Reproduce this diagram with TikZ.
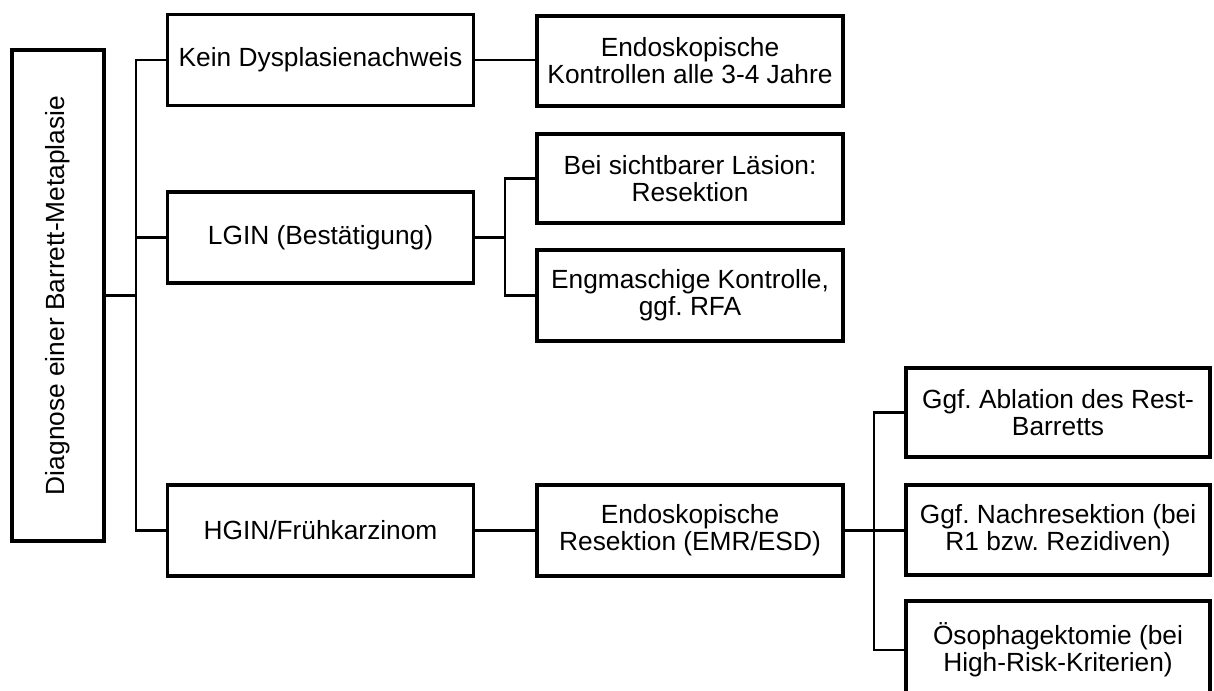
\documentclass[tikz,border=0pt]{standalone}
\usepackage{fontspec}
\setmainfont{Liberation Sans}
\begin{document}
\frenchspacing
\begin{tikzpicture}[x=1pt,y=-1pt,
  box/.style={draw, line width=3.5pt, minimum width=306pt, minimum height=91pt,
    inner sep=0pt, align=center, font=\fontsize{26.3}{27}\selectfont},
  link/.style={line width=2.5pt},
  fine/.style={line width=2.2pt},
  heavy/.style={line width=3.5pt}]
\useasboundingbox (0,0) rectangle (1214,690);
\clip (0,0) rectangle (1214,690);

% root box with rotated title
\node[box, minimum width=491pt, minimum height=92pt, rotate=90] (root) at (58,295.5)
  {Diagnose einer Barrett-Metaplasie};

% first level
\node[box] (kein) at (320.5,60) {Kein Dysplasienachweis};
\node[box] (lgin) at (320.5,237.5) {LGIN (Bestätigung)};
\node[box] (hgin) at (320.5,530.5) {HGIN/Frühkarzinom};

% second level
\node[box, minimum height=90pt] (endok) at (690,61) {Endoskopische\\Kontrollen alle 3-4 Jahre};
\node[box, minimum height=89pt] (bei) at (690,178.5) {Bei sichtbarer Läsion:\\Resektion};
\node[box] (eng) at (690,295.5) {Engmaschige Kontrolle,\\ggf. RFA};
\node[box] (endor) at (690,530.5) {Endoskopische\\Resektion (EMR/ESD)};

% third level
\node[box, minimum width=304pt, minimum height=89pt] (abl) at (1058,412.5) {Ggf. Ablation des Rest-\\Barretts};
\node[box, minimum width=304pt, minimum height=90pt] (nach) at (1058,530) {Ggf. Nachresektion (bei\\R1 bzw. Rezidiven)};
\node[box, minimum width=304pt, minimum height=98pt] (oes) at (1058,650) {Ösophagektomie (bei\\High-Risk-Kriterien)};

% branch rails
\coordinate (t) at (136,0);
\coordinate (b1) at (505,0);
\coordinate (b2) at (874,0);

% connectors
\draw[link] (root.south) -- (root.south -| t);
\draw[link] (kein.west) -- (kein.west -| t) -- (hgin.west -| t) -- (hgin.west);
\draw[link] (lgin.west) -- (lgin.west -| t);

\draw[link] (kein.east) -- (kein.east -| endok.west);

\draw[link] (lgin.east) -- (lgin.east -| b1);
\draw[fine] (bei.west) -- (bei.west -| b1) -- (eng.west -| b1) -- (eng.west);

\draw[heavy] (hgin.east) -- (endor.west);
\draw[heavy] (endor.east) -- (endor.east -| nach.west);
\draw[link] (abl.west) -- (abl.west -| b2) -- (oes.west -| b2) -- (oes.west);
\end{tikzpicture}
\end{document}
